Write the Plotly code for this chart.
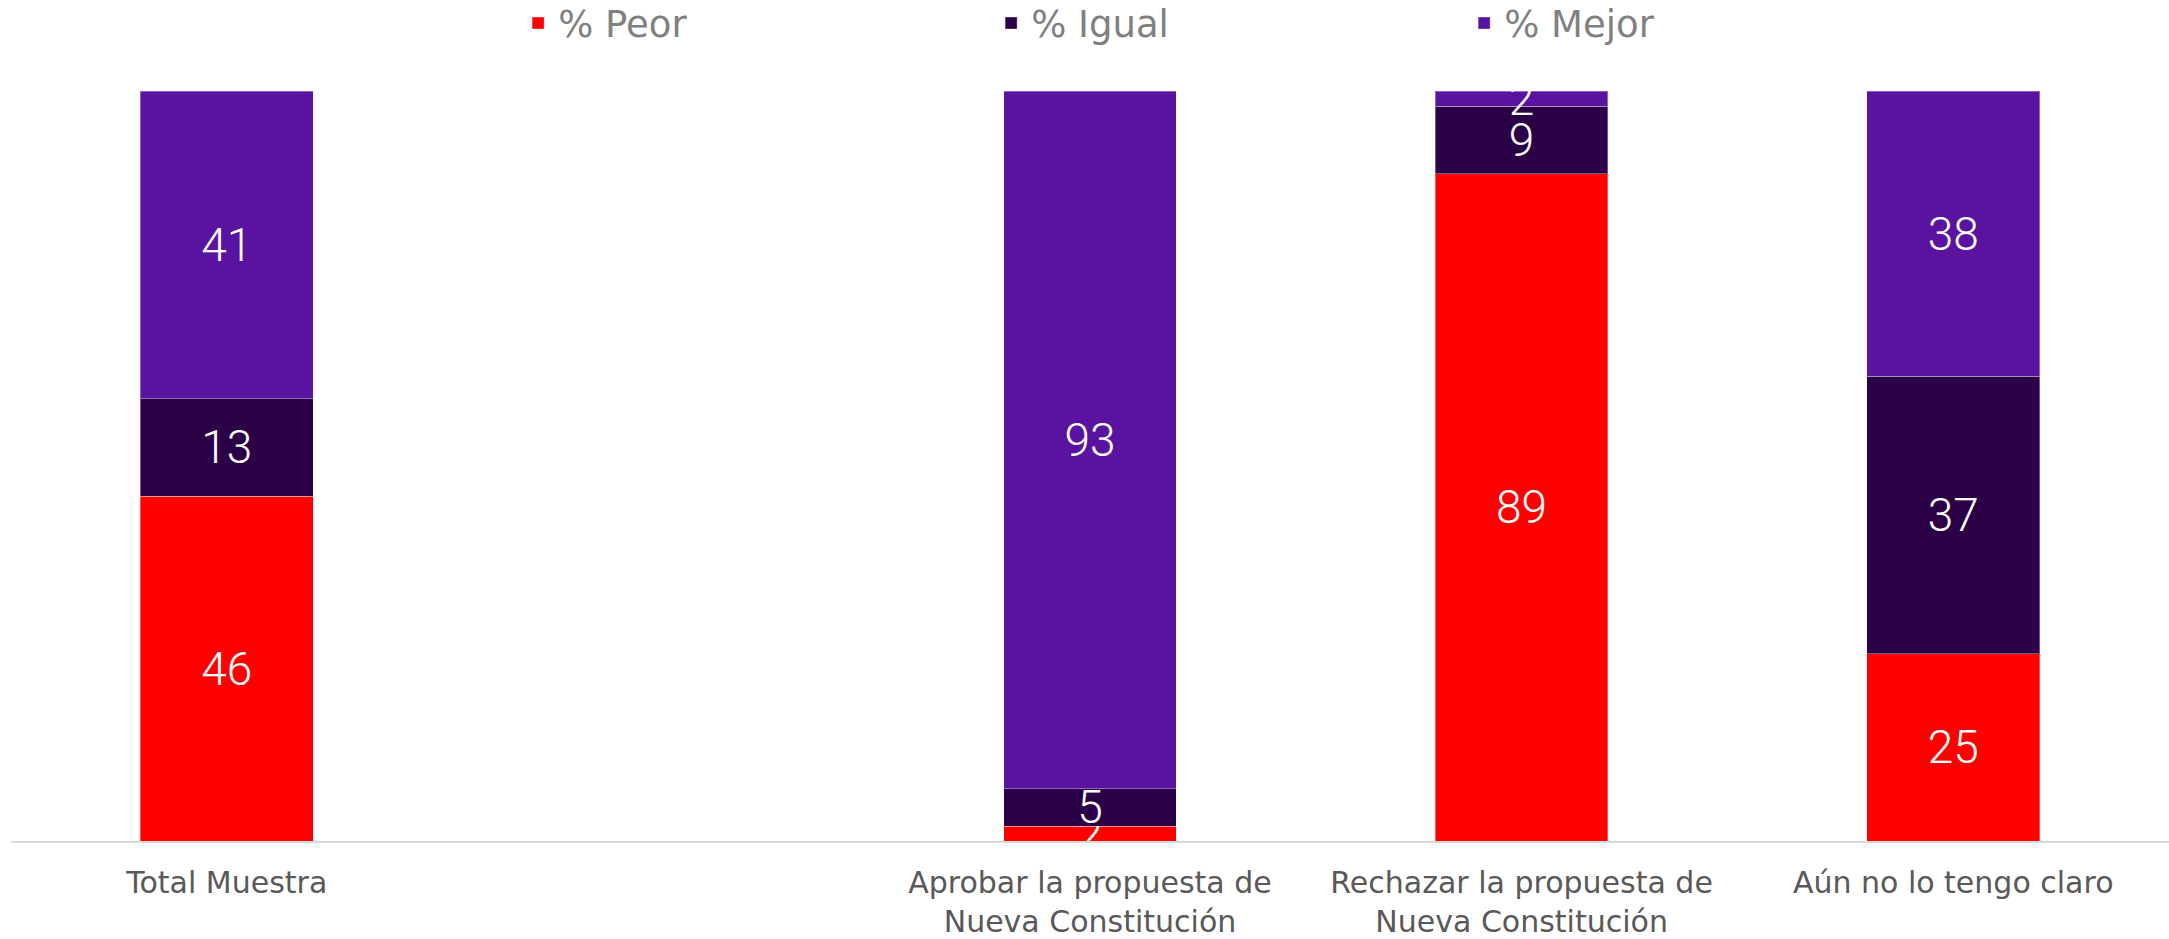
import plotly.graph_objects as go

categories = ["Total Muestra", " ", "Aprobar la propuesta de<br>Nueva Constitución",
              "Rechazar la propuesta de<br>Nueva Constitución", "Aún no lo tengo claro"]
peor = [46, None, 2, 89, 25]
igual = [13, None, 5, 9, 37]
mejor = [41, None, 93, 2, 38]

series = [("% Peor", peor, "#FF0000"), ("% Igual", igual, "#2C0046"), ("% Mejor", mejor, "#5A12A0")]

fig = go.Figure()
for name, vals, color in series:
    fig.add_trace(go.Bar(
        x=categories, y=vals, name=name,
        marker=dict(color=color, line=dict(color="rgba(255,255,255,0.35)", width=1)),
        text=[("" if v is None else str(v)) for v in vals],
        textposition="inside", insidetextanchor="middle", constraintext="none",
        textangle=0,
        textfont=dict(family="Roboto", size=46, color="white", weight=300),
        cliponaxis=True,
    ))

fig.update_layout(
    barmode="stack", bargap=0.6,
    width=2169, height=939,
    margin=dict(l=11, r=0, t=91, b=98, autoexpand=False),
    paper_bgcolor="white", plot_bgcolor="white",
    showlegend=True,
    legend=dict(orientation="h", x=0.235, xanchor="left", y=1.09, yanchor="middle",
                entrywidth=428,
                font=dict(family="DejaVu Sans", size=37, color="#808080"),
                traceorder="normal"),
    xaxis=dict(showgrid=False, showline=True, linecolor="#D9D9D9", linewidth=2,
               tickfont=dict(family="DejaVu Sans", size=30, color="#595959"),
               ticks="", ticklabelstandoff=14, automargin=False),
    yaxis=dict(range=[0, 100], visible=False, showgrid=False, automargin=False),
)
fig.write_html("out.html", config={"displayModeBar": False},
               post_script="document.body.style.margin='0px';")
